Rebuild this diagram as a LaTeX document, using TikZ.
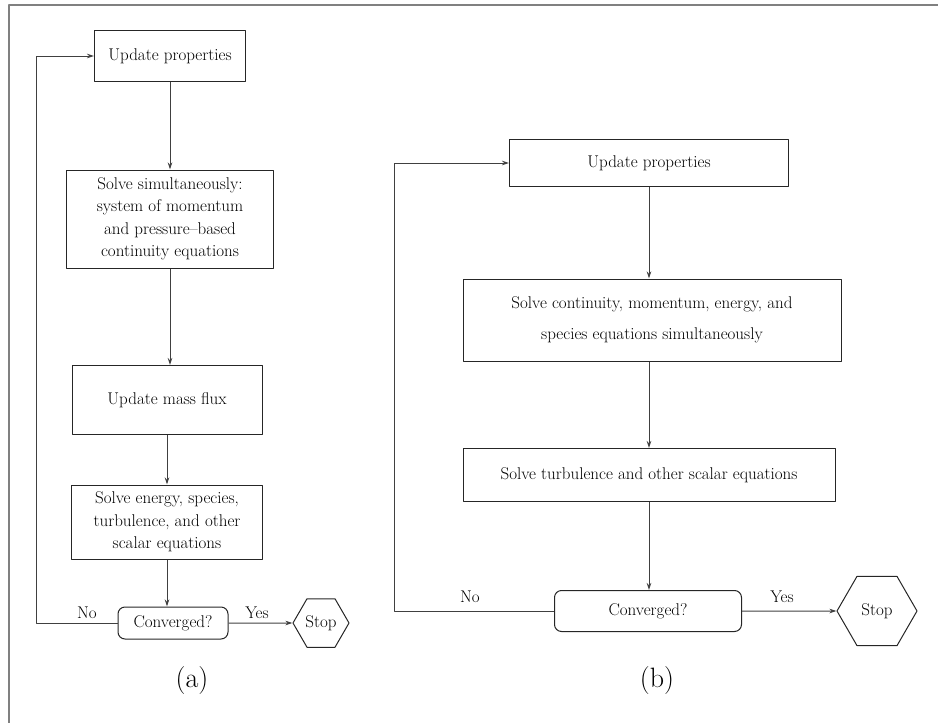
\documentclass[tikz,border=0pt]{standalone}
\usepackage{fontspec}
\usetikzlibrary{arrows.meta,shapes.geometric}
\begin{document}
\begin{tikzpicture}[x=1pt,y=-1pt,line join=round,font=\fontsize{17}{22.5}\selectfont,>={Stealth[length=7pt,width=4.5pt]},
	box/.style={draw=black!85,line width=1pt,align=center,inner sep=0pt},
	conv/.style={box,rounded corners=7pt},
	hexa/.style={draw=black!85,line width=1pt,regular polygon,regular polygon sides=6,inner sep=0pt},
	link/.style={black!75,line width=1pt,->},
	lbl/.style={inner sep=0pt},
	panellbl/.style={inner sep=0pt,font=\fontsize{28}{32}\selectfont}]
	\useasboundingbox (0,0) rectangle (938,723);
	\draw[black!50,line width=2pt] (9,723)--(9,5)--(938,5);
	% (a)
	\node[box,minimum width=151,minimum height=51] (upa) at (170,56) {Update properties};
	\node[box,minimum width=207,minimum height=98] (solvea) at (170,219) {Solve simultaneously:\\system of momentum\\and pressure--based\\continuity equations};
	\node[box,minimum width=190,minimum height=69] (fluxa) at (167,400) {Update mass flux};
	\node[box,minimum width=191,minimum height=74] (energya) at (167,522) {Solve energy, species,\\turbulence, and other\\scalar equations};
	\node[conv,minimum width=110,minimum height=32] (conva) at (173,623) {Converged?};
	\node[hexa,minimum size=56] (stopa) at (321,623) {Stop};
	\coordinate (loopa) at (36,56);
	\draw[link] (upa) -- (upa |- solvea.north);
	\draw[link] (solvea) -- (solvea |- fluxa.north);
	\draw[link] (fluxa) -- (fluxa |- energya.north);
	\draw[link] (energya) -- (energya |- conva.north);
	\draw[link] (conva.east) -- (stopa.west);
	\draw[link] (conva.west) -| (loopa) -- (upa.west);
	\node[lbl] (noa) at (87,613) {No};
	\node[lbl] (yesa) at (257,613) {Yes};
	\node[panellbl] (capa) at (192,681) {(a)};
	% (b)
	\node[box,minimum width=279,minimum height=47] (upb) at (649,163) {Update properties};
	\node[box,minimum width=378,minimum height=82] (solveb) at (652,320) {Solve continuity, momentum, energy, and\\[8pt]species equations simultaneously};
	\node[box,minimum width=372,minimum height=53] (turbb) at (649,475) {Solve turbulence and other scalar equations};
	\node[conv,minimum width=187,minimum height=41] (convb) at (648,611) {Converged?};
	\node[hexa,minimum size=80] (stopb) at (877,611) {Stop};
	\coordinate (loopb) at (394,163);
	\draw[link] (upb) -- (upb |- solveb.north);
	\draw[link] (upb |- solveb.south) -- (upb |- turbb.north);
	\draw[link] (turbb) -- (turbb |- convb.north);
	\draw[link] (convb.east) -- (stopb.west);
	\draw[link] (convb.west) -| (loopb) -- (upb.west);
	\node[lbl] (nob) at (470,597) {No};
	\node[lbl] (yesb) at (782,597) {Yes};
	\node[panellbl] (capb) at (657,681) {(b)};
\end{tikzpicture}
\end{document}
